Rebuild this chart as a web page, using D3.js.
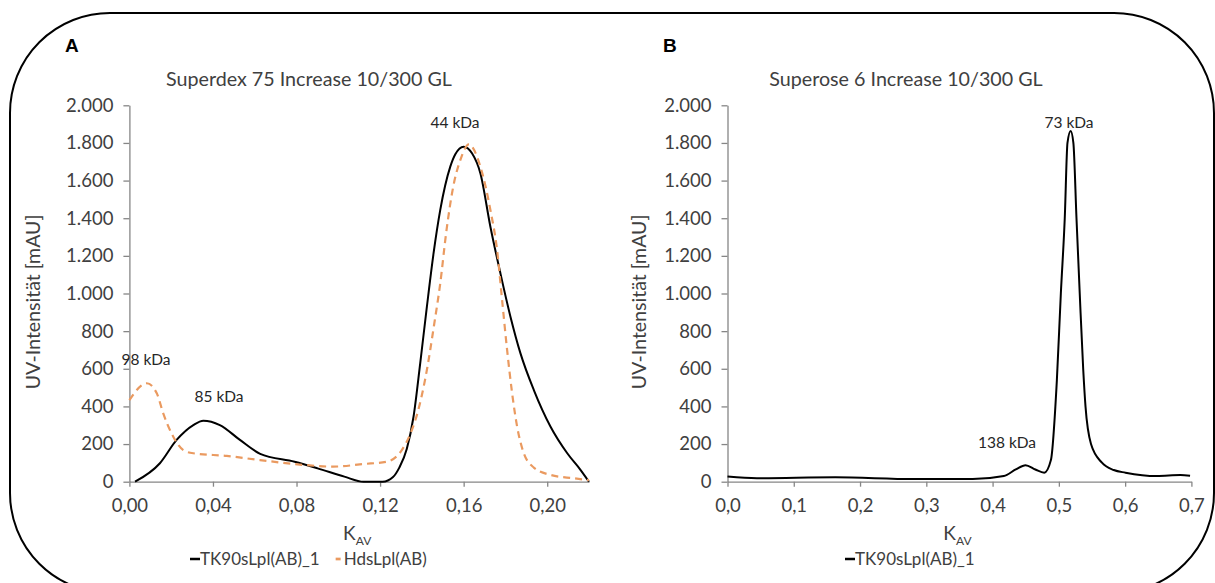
<!DOCTYPE html>
<html>
<head>
<meta charset="utf-8">
<script src="https://cdn.jsdelivr.net/npm/d3@7"></script>
<style>
  body { margin: 0; background: #fff; }
  text { font-family: Lato, "Open Sans", sans-serif; }
</style>
</head>
<body>
<svg id="chart" width="1215" height="583"></svg>
<script>
// --- data ---
// panel A: Superdex 75, [K_AV, UV mAU]
var tkA = [[0.0027,0],[0.0146,98],[0.0226,222],[0.0306,301],[0.0354,324],[0.0433,301],
  [0.0529,222],[0.0626,148],[0.0791,106],[0.0901,71],[0.1029,27],[0.1121,0],[0.1212,0],
  [0.1262,25],[0.1292,75],[0.1328,175],[0.136,345],[0.1392,629],[0.1424,930],[0.1456,1214],
  [0.1488,1444],[0.1536,1674],[0.156,1740],[0.16,1780],[0.164,1745],[0.168,1639],
  [0.1728,1355],[0.1776,1107],[0.1824,877],[0.1872,682],[0.1936,487],[0.2016,292],
  [0.2096,151],[0.216,62],[0.22,0]];
var hdsA = [[0,434],[0.0083,523],[0.0131,470],[0.0162,363],[0.021,239],[0.0258,168],
  [0.0306,151],[0.0466,137],[0.0625,115],[0.0846,88],[0.0974,80],[0.1121,94],[0.1231,106],
  [0.1304,168],[0.1345,255],[0.1385,390],[0.1425,600],[0.1458,830],[0.1488,1054],[0.1516,1320],
  [0.155,1567],[0.1584,1709],[0.1625,1792],[0.168,1674],[0.1728,1444],[0.176,1231],
  [0.1784,965],[0.1808,700],[0.1832,470],[0.1856,292],[0.1888,151],[0.1936,75],
  [0.2016,36],[0.2128,18],[0.22,8]];
// panel B: Superose 6
var tkB = [[0,27],[0.0444,18],[0.1627,23],[0.281,14],[0.37,14],[0.417,30],[0.435,65],
  [0.4497,88],[0.4645,65],[0.478,48],[0.488,115],[0.497,540],[0.503,1000],[0.5089,1400],
  [0.513,1800],[0.5178,1863],[0.5219,1800],[0.5266,1400],[0.5315,1000],[0.5367,600],
  [0.5402,400],[0.5485,200],[0.565,101],[0.5828,62],[0.6006,48],[0.6479,30],[0.6834,35],
  [0.698,32]];

var yTicks = d3.range(0, 2001, 200);
var xTicksA = [0, 0.04, 0.08, 0.12, 0.16, 0.20];
var xTicksB = [0, 0.1, 0.2, 0.3, 0.4, 0.5, 0.6, 0.7];

var de = d3.formatLocale({decimal: ",", thousands: ".", grouping: [3], currency: ["", " €"]});

var svg = d3.select("#chart");
var textCol = "#404040";

// rounded frame
svg.append("rect")
  .attr("x", 10).attr("y", 13).attr("width", 1204).attr("height", 580)
  .attr("rx", 100).attr("ry", 100)
  .attr("fill", "none").attr("stroke", "#000").attr("stroke-width", 2);

function panel(opt) {
  var g = svg.append("g");
  var x = d3.scaleLinear().domain(opt.xDomain).range([opt.left, opt.right]);
  var y = d3.scaleLinear().domain([0, 2000]).range([481.7, 105.3]);

  // y axis
  var ya = g.append("g").attr("transform", "translate(" + opt.left + ",0)")
    .call(d3.axisLeft(y).tickValues(yTicks).tickFormat(de.format(",d")).tickSize(6).tickSizeOuter(0).tickPadding(10));
  // x axis
  var xa = g.append("g").attr("transform", "translate(0," + y(0) + ")")
    .call(d3.axisBottom(x).tickValues(opt.xTicks).tickFormat(de.format(opt.fmt)).tickSize(5).tickSizeOuter(0).tickPadding(12));
  [ya, xa].forEach(function (a) {
    a.select(".domain").attr("stroke", "#868686").attr("stroke-width", 1.3);
    a.selectAll(".tick line").attr("stroke", "#868686").attr("stroke-width", 1.3);
    a.selectAll(".tick text").attr("fill", textCol).style("font-size", "18.5px")
      .style("font-family", "Lato, 'Open Sans', sans-serif");
  });

  var line = d3.line().x(function (d) { return x(d[0]); }).y(function (d) { return y(d[1]); })
    .curve(d3.curveMonotoneX);

  opt.series.forEach(function (s) {
    g.append("path").datum(s.data).attr("d", line)
      .attr("fill", "none").attr("stroke", s.color).attr("stroke-width", s.width)
      .attr("stroke-dasharray", s.dash || null).attr("stroke-linejoin", "round");
  });

  // panel letter and title
  g.append("text").attr("x", opt.letterX).attr("y", 52).text(opt.letter)
    .style("font-family", "'Liberation Sans', Arial, sans-serif").style("font-weight", "bold")
    .style("font-size", "19px").attr("fill", "#000");
  g.append("text").attr("x", opt.titleX).attr("y", 86).attr("text-anchor", "middle")
    .style("font-size", "19.7px").attr("fill", textCol).text(opt.title);

  // axis titles
  g.append("text").attr("transform", "translate(" + opt.yLabelX + ",302) rotate(-90)")
    .attr("text-anchor", "middle").attr("dy", "0.35em").style("font-size", "19.5px")
    .attr("fill", textCol).text("UV-Intensität [mAU]");
  var kt = g.append("text").attr("x", (opt.left + opt.right) / 2 - 2).attr("y", 540)
    .attr("text-anchor", "middle").attr("fill", textCol).style("font-size", "19px");
  kt.append("tspan").text("K");
  kt.append("tspan").attr("dy", 5).style("font-size", "12px").text("AV");

  // peak labels
  opt.notes.forEach(function (n) {
    g.append("text").attr("x", n.x).attr("y", n.y).attr("dy", "0.35em").attr("text-anchor", "middle")
      .style("font-size", "15.5px").attr("fill", "#262626").text(n.t);
  });

  // legend
  var lx = opt.legendX, ly = 559;
  opt.series.forEach(function (s) {
    var sw = s.dash ? 5 : 10;
    g.append("line").attr("x1", lx).attr("x2", lx + sw).attr("y1", ly).attr("y2", ly)
      .attr("stroke", s.color).attr("stroke-width", s.width + 0.5);
    var t = g.append("text").attr("x", lx + sw + (s.dash ? 3 : 0)).attr("y", ly).attr("dy", "0.35em")
      .style("font-size", "17px").attr("fill", textCol).text(s.name);
    lx = lx + sw + (s.dash ? 3 : 0) + t.node().getComputedTextLength() + 16;
  });
}

panel({
  xDomain: [0, 0.22], left: 129.4, right: 589, xTicks: xTicksA, fmt: ".2f",
  letter: "A", letterX: 65, title: "Superdex 75 Increase 10/300 GL", titleX: 309, yLabelX: 33,
  legendX: 190,
  notes: [{t: "44 kDa", x: 455, y: 123}, {t: "98 kDa", x: 146, y: 360}, {t: "85 kDa", x: 219, y: 397}],
  series: [
    {name: "TK90sLpl(AB)_1", data: tkA, color: "#000", width: 2},
    {name: "HdsLpl(AB)", data: hdsA, color: "#EA9A60", width: 2.2, dash: "7,5"}
  ]
});

panel({
  xDomain: [0, 0.7], left: 727.5, right: 1191.4, xTicks: xTicksB, fmt: ".1f",
  letter: "B", letterX: 663, title: "Superose 6 Increase 10/300 GL", titleX: 906, yLabelX: 639,
  legendX: 845,
  notes: [{t: "73 kDa", x: 1069, y: 123}, {t: "138 kDa", x: 1007, y: 443}],
  series: [
    {name: "TK90sLpl(AB)_1", data: tkB, color: "#000", width: 2}
  ]
});
</script>
</body>
</html>
